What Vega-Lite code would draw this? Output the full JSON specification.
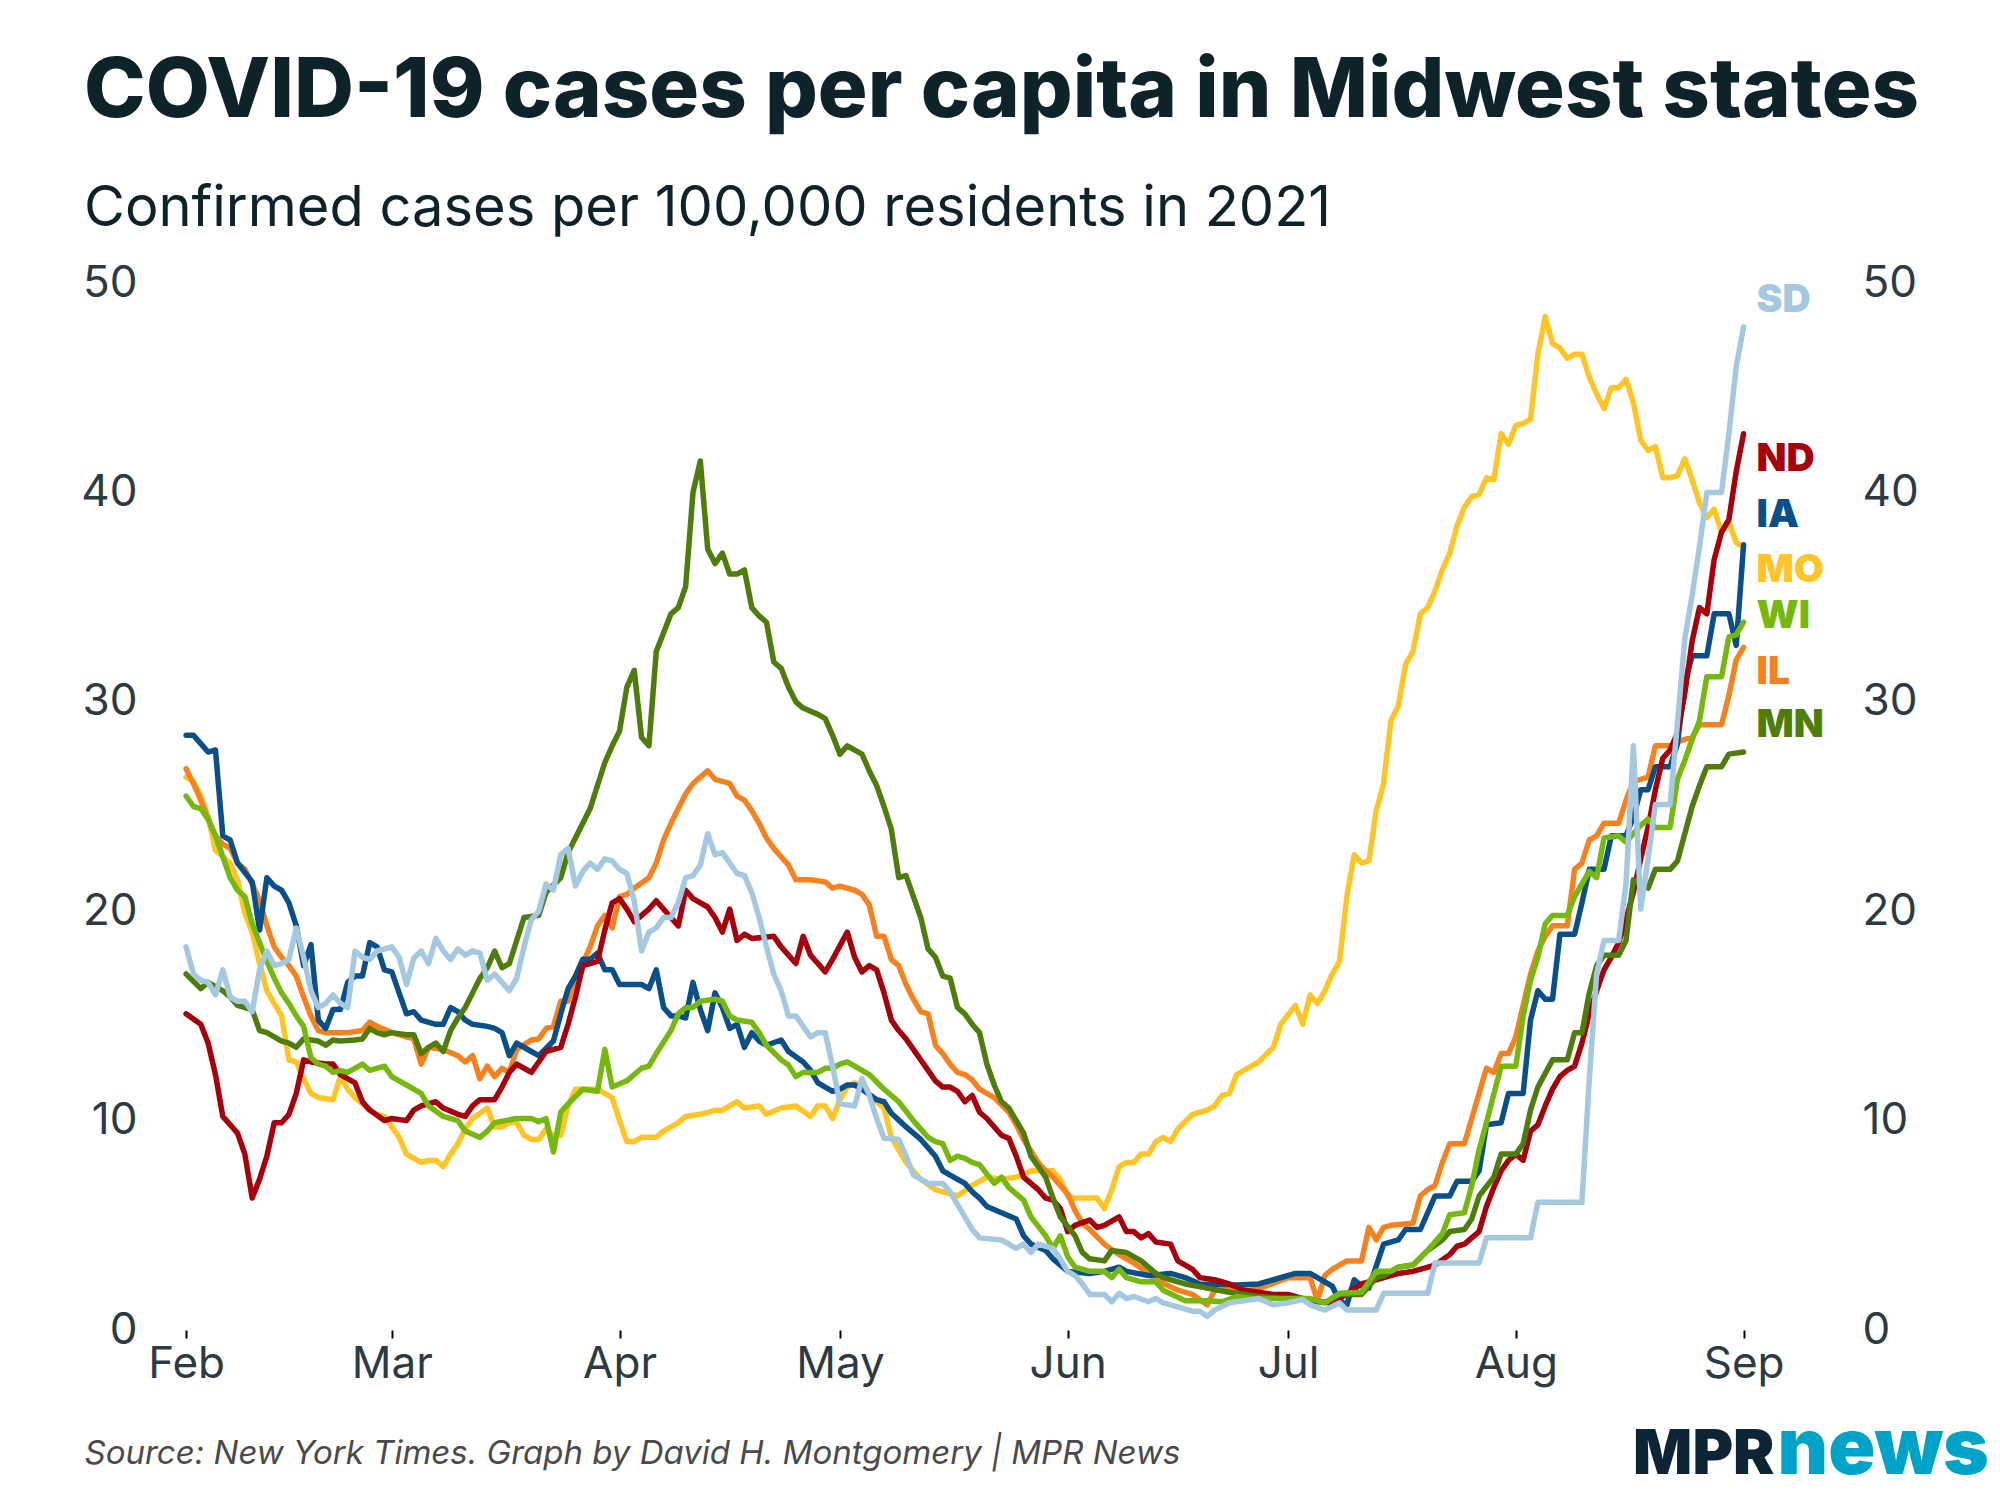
{
"$schema":"https://vega.github.io/schema/vega-lite/v6.json",
"width":1653,"height":1047,
"autosize":{"type":"none"},
"padding":{"left":142,"top":283,"right":205,"bottom":170},
"background":"white",
"config":{"view":{"stroke":null},"font":"Inter"},
"title":{"text":"COVID-19 cases per capita in Midwest states","subtitle":"Confirmed cases per 100,000 residents in 2021","anchor":"start","frame":"group","dx":-58,"font":"Inter","fontSize":83,"fontWeight":800,"color":"#0e2329","subtitleFont":"Inter","subtitleFontSize":56,"subtitleColor":"#0e2329","subtitlePadding":48,"offset":24},
"datasets":{
"cases":[
{"state":"MO","date":"2021-02-01","cases":26.4},{"state":"MO","date":"2021-02-02","cases":26.2},{"state":"MO","date":"2021-02-03","cases":25.5},{"state":"MO","date":"2021-02-04","cases":24.5},{"state":"MO","date":"2021-02-05","cases":22.9},{"state":"MO","date":"2021-02-06","cases":22.6},{"state":"MO","date":"2021-02-07","cases":22.3},{"state":"MO","date":"2021-02-08","cases":21.5},{"state":"MO","date":"2021-02-09","cases":19.9},{"state":"MO","date":"2021-02-10","cases":19.0},{"state":"MO","date":"2021-02-11","cases":17.5},{"state":"MO","date":"2021-02-12","cases":16.2},{"state":"MO","date":"2021-02-13","cases":15.6},{"state":"MO","date":"2021-02-14","cases":15.0},{"state":"MO","date":"2021-02-15","cases":12.9},{"state":"MO","date":"2021-02-16","cases":12.8},{"state":"MO","date":"2021-02-17","cases":12.0},{"state":"MO","date":"2021-02-18","cases":11.3},{"state":"MO","date":"2021-02-19","cases":11.1},{"state":"MO","date":"2021-02-21","cases":11.0},{"state":"MO","date":"2021-02-22","cases":12.1},{"state":"MO","date":"2021-02-23","cases":11.5},{"state":"MO","date":"2021-02-24","cases":11.1},{"state":"MO","date":"2021-02-26","cases":10.5},{"state":"MO","date":"2021-02-27","cases":10.3},{"state":"MO","date":"2021-02-28","cases":10.2},{"state":"MO","date":"2021-03-02","cases":9.2},{"state":"MO","date":"2021-03-03","cases":8.4},{"state":"MO","date":"2021-03-05","cases":8.0},{"state":"MO","date":"2021-03-06","cases":8.1},{"state":"MO","date":"2021-03-07","cases":8.1},{"state":"MO","date":"2021-03-08","cases":7.8},{"state":"MO","date":"2021-03-09","cases":8.4},{"state":"MO","date":"2021-03-10","cases":8.9},{"state":"MO","date":"2021-03-11","cases":9.6},{"state":"MO","date":"2021-03-12","cases":10.1},{"state":"MO","date":"2021-03-14","cases":10.6},{"state":"MO","date":"2021-03-15","cases":9.7},{"state":"MO","date":"2021-03-16","cases":9.7},{"state":"MO","date":"2021-03-17","cases":9.9},{"state":"MO","date":"2021-03-18","cases":9.9},{"state":"MO","date":"2021-03-19","cases":9.3},{"state":"MO","date":"2021-03-20","cases":9.1},{"state":"MO","date":"2021-03-21","cases":9.1},{"state":"MO","date":"2021-03-22","cases":9.6},{"state":"MO","date":"2021-03-23","cases":9.3},{"state":"MO","date":"2021-03-24","cases":9.3},{"state":"MO","date":"2021-03-25","cases":10.7},{"state":"MO","date":"2021-03-26","cases":11.5},{"state":"MO","date":"2021-03-27","cases":11.5},{"state":"MO","date":"2021-03-29","cases":11.5},{"state":"MO","date":"2021-03-31","cases":11.1},{"state":"MO","date":"2021-04-01","cases":10.0},{"state":"MO","date":"2021-04-02","cases":9.0},{"state":"MO","date":"2021-04-03","cases":9.0},{"state":"MO","date":"2021-04-04","cases":9.2},{"state":"MO","date":"2021-04-06","cases":9.2},{"state":"MO","date":"2021-04-07","cases":9.5},{"state":"MO","date":"2021-04-09","cases":9.9},{"state":"MO","date":"2021-04-10","cases":10.2},{"state":"MO","date":"2021-04-12","cases":10.3},{"state":"MO","date":"2021-04-14","cases":10.5},{"state":"MO","date":"2021-04-15","cases":10.5},{"state":"MO","date":"2021-04-17","cases":10.9},{"state":"MO","date":"2021-04-18","cases":10.6},{"state":"MO","date":"2021-04-20","cases":10.7},{"state":"MO","date":"2021-04-21","cases":10.3},{"state":"MO","date":"2021-04-23","cases":10.6},{"state":"MO","date":"2021-04-25","cases":10.7},{"state":"MO","date":"2021-04-27","cases":10.2},{"state":"MO","date":"2021-04-28","cases":10.7},{"state":"MO","date":"2021-04-29","cases":10.7},{"state":"MO","date":"2021-04-30","cases":10.1},{"state":"MO","date":"2021-05-01","cases":11.0},{"state":"MO","date":"2021-05-02","cases":11.6},{"state":"MO","date":"2021-05-03","cases":11.8},{"state":"MO","date":"2021-05-04","cases":11.7},{"state":"MO","date":"2021-05-05","cases":11.2},{"state":"MO","date":"2021-05-07","cases":10.6},{"state":"MO","date":"2021-05-08","cases":9.2},{"state":"MO","date":"2021-05-09","cases":8.6},{"state":"MO","date":"2021-05-10","cases":8.0},{"state":"MO","date":"2021-05-12","cases":7.2},{"state":"MO","date":"2021-05-14","cases":6.7},{"state":"MO","date":"2021-05-16","cases":6.5},{"state":"MO","date":"2021-05-17","cases":6.4},{"state":"MO","date":"2021-05-19","cases":6.9},{"state":"MO","date":"2021-05-21","cases":7.3},{"state":"MO","date":"2021-05-23","cases":7.2},{"state":"MO","date":"2021-05-25","cases":7.3},{"state":"MO","date":"2021-05-27","cases":7.6},{"state":"MO","date":"2021-05-30","cases":7.6},{"state":"MO","date":"2021-05-31","cases":7.2},{"state":"MO","date":"2021-06-01","cases":6.4},{"state":"MO","date":"2021-06-02","cases":6.3},{"state":"MO","date":"2021-06-05","cases":6.3},{"state":"MO","date":"2021-06-06","cases":5.8},{"state":"MO","date":"2021-06-07","cases":6.7},{"state":"MO","date":"2021-06-08","cases":7.8},{"state":"MO","date":"2021-06-09","cases":8.0},{"state":"MO","date":"2021-06-10","cases":8.0},{"state":"MO","date":"2021-06-11","cases":8.4},{"state":"MO","date":"2021-06-12","cases":8.4},{"state":"MO","date":"2021-06-13","cases":9.0},{"state":"MO","date":"2021-06-14","cases":9.2},{"state":"MO","date":"2021-06-15","cases":9.0},{"state":"MO","date":"2021-06-16","cases":9.6},{"state":"MO","date":"2021-06-18","cases":10.3},{"state":"MO","date":"2021-06-20","cases":10.5},{"state":"MO","date":"2021-06-21","cases":10.7},{"state":"MO","date":"2021-06-22","cases":11.2},{"state":"MO","date":"2021-06-23","cases":11.3},{"state":"MO","date":"2021-06-24","cases":12.2},{"state":"MO","date":"2021-06-25","cases":12.4},{"state":"MO","date":"2021-06-27","cases":12.8},{"state":"MO","date":"2021-06-29","cases":13.5},{"state":"MO","date":"2021-06-30","cases":14.6},{"state":"MO","date":"2021-07-02","cases":15.5},{"state":"MO","date":"2021-07-03","cases":14.6},{"state":"MO","date":"2021-07-04","cases":16.0},{"state":"MO","date":"2021-07-05","cases":15.6},{"state":"MO","date":"2021-07-06","cases":16.2},{"state":"MO","date":"2021-07-07","cases":17.0},{"state":"MO","date":"2021-07-08","cases":17.6},{"state":"MO","date":"2021-07-09","cases":20.7},{"state":"MO","date":"2021-07-10","cases":22.7},{"state":"MO","date":"2021-07-11","cases":22.3},{"state":"MO","date":"2021-07-12","cases":22.4},{"state":"MO","date":"2021-07-13","cases":24.8},{"state":"MO","date":"2021-07-14","cases":26.1},{"state":"MO","date":"2021-07-15","cases":29.1},{"state":"MO","date":"2021-07-16","cases":29.8},{"state":"MO","date":"2021-07-17","cases":31.8},{"state":"MO","date":"2021-07-18","cases":32.4},{"state":"MO","date":"2021-07-19","cases":34.2},{"state":"MO","date":"2021-07-20","cases":34.5},{"state":"MO","date":"2021-07-21","cases":35.3},{"state":"MO","date":"2021-07-22","cases":36.3},{"state":"MO","date":"2021-07-23","cases":37.1},{"state":"MO","date":"2021-07-24","cases":38.4},{"state":"MO","date":"2021-07-25","cases":39.3},{"state":"MO","date":"2021-07-26","cases":39.8},{"state":"MO","date":"2021-07-27","cases":39.9},{"state":"MO","date":"2021-07-28","cases":40.7},{"state":"MO","date":"2021-07-29","cases":40.6},{"state":"MO","date":"2021-07-30","cases":42.8},{"state":"MO","date":"2021-07-31","cases":42.3},{"state":"MO","date":"2021-08-01","cases":43.2},{"state":"MO","date":"2021-08-02","cases":43.3},{"state":"MO","date":"2021-08-03","cases":43.5},{"state":"MO","date":"2021-08-04","cases":46.6},{"state":"MO","date":"2021-08-05","cases":48.4},{"state":"MO","date":"2021-08-06","cases":47.1},{"state":"MO","date":"2021-08-07","cases":46.9},{"state":"MO","date":"2021-08-08","cases":46.4},{"state":"MO","date":"2021-08-09","cases":46.6},{"state":"MO","date":"2021-08-10","cases":46.6},{"state":"MO","date":"2021-08-11","cases":45.5},{"state":"MO","date":"2021-08-12","cases":44.7},{"state":"MO","date":"2021-08-13","cases":44.0},{"state":"MO","date":"2021-08-14","cases":45.0},{"state":"MO","date":"2021-08-15","cases":45.0},{"state":"MO","date":"2021-08-16","cases":45.4},{"state":"MO","date":"2021-08-17","cases":44.3},{"state":"MO","date":"2021-08-18","cases":42.5},{"state":"MO","date":"2021-08-19","cases":42.0},{"state":"MO","date":"2021-08-20","cases":42.2},{"state":"MO","date":"2021-08-21","cases":40.7},{"state":"MO","date":"2021-08-22","cases":40.7},{"state":"MO","date":"2021-08-23","cases":40.8},{"state":"MO","date":"2021-08-24","cases":41.6},{"state":"MO","date":"2021-08-25","cases":40.6},{"state":"MO","date":"2021-08-26","cases":39.5},{"state":"MO","date":"2021-08-27","cases":38.8},{"state":"MO","date":"2021-08-28","cases":39.2},{"state":"MO","date":"2021-08-29","cases":38.1},{"state":"MO","date":"2021-08-30","cases":38.6},{"state":"MO","date":"2021-08-31","cases":37.6},{"state":"MO","date":"2021-09-01","cases":37.4},
{"state":"IL","date":"2021-02-01","cases":26.8},{"state":"IL","date":"2021-02-02","cases":26.1},{"state":"IL","date":"2021-02-03","cases":25.3},{"state":"IL","date":"2021-02-04","cases":24.4},{"state":"IL","date":"2021-02-05","cases":23.6},{"state":"IL","date":"2021-02-06","cases":23.2},{"state":"IL","date":"2021-02-07","cases":23.0},{"state":"IL","date":"2021-02-08","cases":22.3},{"state":"IL","date":"2021-02-09","cases":22.0},{"state":"IL","date":"2021-02-10","cases":21.3},{"state":"IL","date":"2021-02-11","cases":20.5},{"state":"IL","date":"2021-02-12","cases":19.3},{"state":"IL","date":"2021-02-13","cases":18.3},{"state":"IL","date":"2021-02-14","cases":17.8},{"state":"IL","date":"2021-02-15","cases":17.4},{"state":"IL","date":"2021-02-16","cases":16.9},{"state":"IL","date":"2021-02-17","cases":15.9},{"state":"IL","date":"2021-02-18","cases":15.0},{"state":"IL","date":"2021-02-19","cases":14.3},{"state":"IL","date":"2021-02-20","cases":14.2},{"state":"IL","date":"2021-02-23","cases":14.2},{"state":"IL","date":"2021-02-25","cases":14.3},{"state":"IL","date":"2021-02-26","cases":14.7},{"state":"IL","date":"2021-02-27","cases":14.5},{"state":"IL","date":"2021-03-01","cases":14.2},{"state":"IL","date":"2021-03-03","cases":14.0},{"state":"IL","date":"2021-03-04","cases":13.9},{"state":"IL","date":"2021-03-05","cases":12.7},{"state":"IL","date":"2021-03-06","cases":13.5},{"state":"IL","date":"2021-03-08","cases":13.4},{"state":"IL","date":"2021-03-10","cases":13.1},{"state":"IL","date":"2021-03-11","cases":12.8},{"state":"IL","date":"2021-03-12","cases":13.1},{"state":"IL","date":"2021-03-13","cases":12.0},{"state":"IL","date":"2021-03-14","cases":12.6},{"state":"IL","date":"2021-03-15","cases":12.1},{"state":"IL","date":"2021-03-16","cases":12.5},{"state":"IL","date":"2021-03-17","cases":12.3},{"state":"IL","date":"2021-03-18","cases":13.4},{"state":"IL","date":"2021-03-20","cases":13.85},{"state":"IL","date":"2021-03-21","cases":13.9},{"state":"IL","date":"2021-03-22","cases":14.4},{"state":"IL","date":"2021-03-23","cases":14.5},{"state":"IL","date":"2021-03-24","cases":15.7},{"state":"IL","date":"2021-03-25","cases":15.7},{"state":"IL","date":"2021-03-26","cases":16.9},{"state":"IL","date":"2021-03-27","cases":17.5},{"state":"IL","date":"2021-03-28","cases":18.3},{"state":"IL","date":"2021-03-29","cases":19.3},{"state":"IL","date":"2021-03-30","cases":19.8},{"state":"IL","date":"2021-03-31","cases":19.2},{"state":"IL","date":"2021-04-01","cases":20.7},{"state":"IL","date":"2021-04-02","cases":20.8},{"state":"IL","date":"2021-04-03","cases":21.1},{"state":"IL","date":"2021-04-05","cases":21.6},{"state":"IL","date":"2021-04-06","cases":22.3},{"state":"IL","date":"2021-04-07","cases":23.4},{"state":"IL","date":"2021-04-08","cases":24.2},{"state":"IL","date":"2021-04-09","cases":24.9},{"state":"IL","date":"2021-04-10","cases":25.6},{"state":"IL","date":"2021-04-11","cases":26.1},{"state":"IL","date":"2021-04-12","cases":26.4},{"state":"IL","date":"2021-04-13","cases":26.7},{"state":"IL","date":"2021-04-14","cases":26.3},{"state":"IL","date":"2021-04-16","cases":26.1},{"state":"IL","date":"2021-04-17","cases":25.5},{"state":"IL","date":"2021-04-18","cases":25.3},{"state":"IL","date":"2021-04-19","cases":24.8},{"state":"IL","date":"2021-04-20","cases":24.2},{"state":"IL","date":"2021-04-21","cases":23.5},{"state":"IL","date":"2021-04-22","cases":23.0},{"state":"IL","date":"2021-04-23","cases":22.6},{"state":"IL","date":"2021-04-24","cases":22.2},{"state":"IL","date":"2021-04-25","cases":21.5},{"state":"IL","date":"2021-04-27","cases":21.5},{"state":"IL","date":"2021-04-29","cases":21.4},{"state":"IL","date":"2021-04-30","cases":21.1},{"state":"IL","date":"2021-05-01","cases":21.2},{"state":"IL","date":"2021-05-03","cases":21.0},{"state":"IL","date":"2021-05-04","cases":20.8},{"state":"IL","date":"2021-05-05","cases":20.3},{"state":"IL","date":"2021-05-06","cases":18.8},{"state":"IL","date":"2021-05-07","cases":18.8},{"state":"IL","date":"2021-05-08","cases":17.7},{"state":"IL","date":"2021-05-09","cases":17.4},{"state":"IL","date":"2021-05-10","cases":16.5},{"state":"IL","date":"2021-05-11","cases":15.8},{"state":"IL","date":"2021-05-12","cases":15.2},{"state":"IL","date":"2021-05-13","cases":15.1},{"state":"IL","date":"2021-05-14","cases":13.6},{"state":"IL","date":"2021-05-15","cases":13.2},{"state":"IL","date":"2021-05-16","cases":12.7},{"state":"IL","date":"2021-05-17","cases":12.3},{"state":"IL","date":"2021-05-18","cases":12.2},{"state":"IL","date":"2021-05-19","cases":11.95},{"state":"IL","date":"2021-05-20","cases":11.5},{"state":"IL","date":"2021-05-22","cases":11.1},{"state":"IL","date":"2021-05-24","cases":10.4},{"state":"IL","date":"2021-05-25","cases":9.8},{"state":"IL","date":"2021-05-26","cases":9.1},{"state":"IL","date":"2021-05-28","cases":8.0},{"state":"IL","date":"2021-05-29","cases":7.6},{"state":"IL","date":"2021-05-30","cases":7.3},{"state":"IL","date":"2021-06-01","cases":6.5},{"state":"IL","date":"2021-06-02","cases":5.7},{"state":"IL","date":"2021-06-03","cases":5.1},{"state":"IL","date":"2021-06-04","cases":4.8},{"state":"IL","date":"2021-06-06","cases":4.1},{"state":"IL","date":"2021-06-08","cases":3.6},{"state":"IL","date":"2021-06-10","cases":3.2},{"state":"IL","date":"2021-06-12","cases":2.7},{"state":"IL","date":"2021-06-13","cases":2.4},{"state":"IL","date":"2021-06-16","cases":1.9},{"state":"IL","date":"2021-06-18","cases":1.7},{"state":"IL","date":"2021-06-20","cases":1.2},{"state":"IL","date":"2021-06-21","cases":1.9},{"state":"IL","date":"2021-06-26","cases":1.9},{"state":"IL","date":"2021-06-28","cases":2.1},{"state":"IL","date":"2021-07-01","cases":2.5},{"state":"IL","date":"2021-07-04","cases":2.5},{"state":"IL","date":"2021-07-05","cases":1.4},{"state":"IL","date":"2021-07-06","cases":2.6},{"state":"IL","date":"2021-07-07","cases":2.9},{"state":"IL","date":"2021-07-09","cases":3.3},{"state":"IL","date":"2021-07-11","cases":3.3},{"state":"IL","date":"2021-07-12","cases":4.9},{"state":"IL","date":"2021-07-13","cases":4.3},{"state":"IL","date":"2021-07-14","cases":4.9},{"state":"IL","date":"2021-07-15","cases":5.0},{"state":"IL","date":"2021-07-18","cases":5.1},{"state":"IL","date":"2021-07-19","cases":6.4},{"state":"IL","date":"2021-07-20","cases":6.7},{"state":"IL","date":"2021-07-21","cases":6.9},{"state":"IL","date":"2021-07-22","cases":8.0},{"state":"IL","date":"2021-07-23","cases":8.9},{"state":"IL","date":"2021-07-25","cases":8.9},{"state":"IL","date":"2021-07-26","cases":10.1},{"state":"IL","date":"2021-07-27","cases":11.3},{"state":"IL","date":"2021-07-28","cases":12.5},{"state":"IL","date":"2021-07-29","cases":12.3},{"state":"IL","date":"2021-07-30","cases":13.2},{"state":"IL","date":"2021-07-31","cases":13.2},{"state":"IL","date":"2021-08-01","cases":14.0},{"state":"IL","date":"2021-08-02","cases":15.5},{"state":"IL","date":"2021-08-03","cases":17.0},{"state":"IL","date":"2021-08-04","cases":18.1},{"state":"IL","date":"2021-08-05","cases":18.8},{"state":"IL","date":"2021-08-06","cases":19.3},{"state":"IL","date":"2021-08-08","cases":19.3},{"state":"IL","date":"2021-08-09","cases":22.0},{"state":"IL","date":"2021-08-10","cases":22.3},{"state":"IL","date":"2021-08-11","cases":23.4},{"state":"IL","date":"2021-08-12","cases":23.6},{"state":"IL","date":"2021-08-13","cases":24.2},{"state":"IL","date":"2021-08-15","cases":24.2},{"state":"IL","date":"2021-08-16","cases":25.3},{"state":"IL","date":"2021-08-17","cases":26.2},{"state":"IL","date":"2021-08-18","cases":26.3},{"state":"IL","date":"2021-08-19","cases":26.4},{"state":"IL","date":"2021-08-20","cases":27.9},{"state":"IL","date":"2021-08-22","cases":27.9},{"state":"IL","date":"2021-08-23","cases":28.1},{"state":"IL","date":"2021-08-25","cases":28.3},{"state":"IL","date":"2021-08-26","cases":28.9},{"state":"IL","date":"2021-08-29","cases":28.9},{"state":"IL","date":"2021-08-30","cases":30.3},{"state":"IL","date":"2021-08-31","cases":32.0},{"state":"IL","date":"2021-09-01","cases":32.6},
{"state":"IA","date":"2021-02-01","cases":28.4},{"state":"IA","date":"2021-02-02","cases":28.4},{"state":"IA","date":"2021-02-03","cases":28.0},{"state":"IA","date":"2021-02-04","cases":27.6},{"state":"IA","date":"2021-02-05","cases":27.7},{"state":"IA","date":"2021-02-06","cases":23.6},{"state":"IA","date":"2021-02-07","cases":23.4},{"state":"IA","date":"2021-02-08","cases":22.3},{"state":"IA","date":"2021-02-10","cases":21.4},{"state":"IA","date":"2021-02-11","cases":19.1},{"state":"IA","date":"2021-02-12","cases":21.6},{"state":"IA","date":"2021-02-13","cases":21.2},{"state":"IA","date":"2021-02-14","cases":21.0},{"state":"IA","date":"2021-02-15","cases":20.4},{"state":"IA","date":"2021-02-16","cases":19.3},{"state":"IA","date":"2021-02-17","cases":17.4},{"state":"IA","date":"2021-02-18","cases":18.4},{"state":"IA","date":"2021-02-19","cases":14.8},{"state":"IA","date":"2021-02-20","cases":14.4},{"state":"IA","date":"2021-02-21","cases":15.3},{"state":"IA","date":"2021-02-22","cases":15.3},{"state":"IA","date":"2021-02-23","cases":16.6},{"state":"IA","date":"2021-02-24","cases":16.9},{"state":"IA","date":"2021-02-25","cases":16.9},{"state":"IA","date":"2021-02-26","cases":18.5},{"state":"IA","date":"2021-02-27","cases":18.3},{"state":"IA","date":"2021-02-28","cases":17.2},{"state":"IA","date":"2021-03-01","cases":17.1},{"state":"IA","date":"2021-03-03","cases":15.1},{"state":"IA","date":"2021-03-04","cases":15.2},{"state":"IA","date":"2021-03-05","cases":14.8},{"state":"IA","date":"2021-03-07","cases":14.6},{"state":"IA","date":"2021-03-08","cases":14.6},{"state":"IA","date":"2021-03-09","cases":15.4},{"state":"IA","date":"2021-03-10","cases":15.2},{"state":"IA","date":"2021-03-11","cases":14.8},{"state":"IA","date":"2021-03-12","cases":14.6},{"state":"IA","date":"2021-03-14","cases":14.5},{"state":"IA","date":"2021-03-15","cases":14.4},{"state":"IA","date":"2021-03-16","cases":14.2},{"state":"IA","date":"2021-03-17","cases":13.1},{"state":"IA","date":"2021-03-18","cases":13.7},{"state":"IA","date":"2021-03-20","cases":13.3},{"state":"IA","date":"2021-03-21","cases":13.1},{"state":"IA","date":"2021-03-23","cases":13.8},{"state":"IA","date":"2021-03-24","cases":15.1},{"state":"IA","date":"2021-03-25","cases":16.3},{"state":"IA","date":"2021-03-26","cases":16.9},{"state":"IA","date":"2021-03-27","cases":17.7},{"state":"IA","date":"2021-03-28","cases":17.7},{"state":"IA","date":"2021-03-29","cases":18.0},{"state":"IA","date":"2021-03-30","cases":17.2},{"state":"IA","date":"2021-03-31","cases":17.2},{"state":"IA","date":"2021-04-01","cases":16.5},{"state":"IA","date":"2021-04-02","cases":16.5},{"state":"IA","date":"2021-04-04","cases":16.5},{"state":"IA","date":"2021-04-05","cases":16.3},{"state":"IA","date":"2021-04-06","cases":17.2},{"state":"IA","date":"2021-04-07","cases":15.4},{"state":"IA","date":"2021-04-08","cases":15.0},{"state":"IA","date":"2021-04-09","cases":15.0},{"state":"IA","date":"2021-04-10","cases":14.9},{"state":"IA","date":"2021-04-11","cases":16.6},{"state":"IA","date":"2021-04-12","cases":15.3},{"state":"IA","date":"2021-04-13","cases":14.3},{"state":"IA","date":"2021-04-14","cases":16.1},{"state":"IA","date":"2021-04-15","cases":15.4},{"state":"IA","date":"2021-04-16","cases":14.4},{"state":"IA","date":"2021-04-17","cases":14.6},{"state":"IA","date":"2021-04-18","cases":13.5},{"state":"IA","date":"2021-04-19","cases":14.2},{"state":"IA","date":"2021-04-20","cases":13.8},{"state":"IA","date":"2021-04-21","cases":13.6},{"state":"IA","date":"2021-04-23","cases":13.85},{"state":"IA","date":"2021-04-24","cases":13.3},{"state":"IA","date":"2021-04-26","cases":12.8},{"state":"IA","date":"2021-04-27","cases":12.4},{"state":"IA","date":"2021-04-28","cases":11.8},{"state":"IA","date":"2021-04-30","cases":11.4},{"state":"IA","date":"2021-05-01","cases":11.5},{"state":"IA","date":"2021-05-02","cases":11.7},{"state":"IA","date":"2021-05-03","cases":11.7},{"state":"IA","date":"2021-05-04","cases":11.5},{"state":"IA","date":"2021-05-06","cases":11.0},{"state":"IA","date":"2021-05-07","cases":10.9},{"state":"IA","date":"2021-05-08","cases":10.35},{"state":"IA","date":"2021-05-10","cases":9.7},{"state":"IA","date":"2021-05-12","cases":9.1},{"state":"IA","date":"2021-05-14","cases":8.3},{"state":"IA","date":"2021-05-15","cases":7.6},{"state":"IA","date":"2021-05-16","cases":7.4},{"state":"IA","date":"2021-05-18","cases":7.0},{"state":"IA","date":"2021-05-19","cases":6.6},{"state":"IA","date":"2021-05-20","cases":6.3},{"state":"IA","date":"2021-05-21","cases":5.9},{"state":"IA","date":"2021-05-23","cases":5.6},{"state":"IA","date":"2021-05-25","cases":5.3},{"state":"IA","date":"2021-05-26","cases":4.5},{"state":"IA","date":"2021-05-27","cases":4.1},{"state":"IA","date":"2021-05-29","cases":3.8},{"state":"IA","date":"2021-05-30","cases":3.4},{"state":"IA","date":"2021-06-01","cases":2.8},{"state":"IA","date":"2021-06-04","cases":2.7},{"state":"IA","date":"2021-06-06","cases":2.8},{"state":"IA","date":"2021-06-08","cases":3.0},{"state":"IA","date":"2021-06-09","cases":2.8},{"state":"IA","date":"2021-06-12","cases":2.6},{"state":"IA","date":"2021-06-15","cases":2.7},{"state":"IA","date":"2021-06-17","cases":2.5},{"state":"IA","date":"2021-06-19","cases":2.2},{"state":"IA","date":"2021-06-24","cases":2.15},{"state":"IA","date":"2021-06-27","cases":2.2},{"state":"IA","date":"2021-06-29","cases":2.4},{"state":"IA","date":"2021-07-02","cases":2.7},{"state":"IA","date":"2021-07-04","cases":2.7},{"state":"IA","date":"2021-07-05","cases":2.5},{"state":"IA","date":"2021-07-07","cases":2.1},{"state":"IA","date":"2021-07-08","cases":1.4},{"state":"IA","date":"2021-07-09","cases":1.2},{"state":"IA","date":"2021-07-10","cases":2.4},{"state":"IA","date":"2021-07-11","cases":2.1},{"state":"IA","date":"2021-07-12","cases":2.0},{"state":"IA","date":"2021-07-14","cases":4.1},{"state":"IA","date":"2021-07-16","cases":4.3},{"state":"IA","date":"2021-07-17","cases":4.8},{"state":"IA","date":"2021-07-19","cases":4.8},{"state":"IA","date":"2021-07-21","cases":6.4},{"state":"IA","date":"2021-07-23","cases":6.4},{"state":"IA","date":"2021-07-24","cases":7.1},{"state":"IA","date":"2021-07-26","cases":7.1},{"state":"IA","date":"2021-07-27","cases":7.6},{"state":"IA","date":"2021-07-28","cases":9.8},{"state":"IA","date":"2021-07-30","cases":9.9},{"state":"IA","date":"2021-07-31","cases":11.3},{"state":"IA","date":"2021-08-02","cases":11.3},{"state":"IA","date":"2021-08-03","cases":14.8},{"state":"IA","date":"2021-08-04","cases":16.2},{"state":"IA","date":"2021-08-05","cases":15.8},{"state":"IA","date":"2021-08-06","cases":15.8},{"state":"IA","date":"2021-08-07","cases":18.9},{"state":"IA","date":"2021-08-09","cases":18.9},{"state":"IA","date":"2021-08-10","cases":20.4},{"state":"IA","date":"2021-08-11","cases":22.0},{"state":"IA","date":"2021-08-13","cases":22.0},{"state":"IA","date":"2021-08-14","cases":23.6},{"state":"IA","date":"2021-08-16","cases":23.6},{"state":"IA","date":"2021-08-17","cases":24.5},{"state":"IA","date":"2021-08-18","cases":25.8},{"state":"IA","date":"2021-08-19","cases":25.8},{"state":"IA","date":"2021-08-20","cases":26.9},{"state":"IA","date":"2021-08-22","cases":26.9},{"state":"IA","date":"2021-08-23","cases":28.0},{"state":"IA","date":"2021-08-24","cases":30.9},{"state":"IA","date":"2021-08-25","cases":32.2},{"state":"IA","date":"2021-08-27","cases":32.2},{"state":"IA","date":"2021-08-28","cases":34.2},{"state":"IA","date":"2021-08-30","cases":34.2},{"state":"IA","date":"2021-08-31","cases":32.7},{"state":"IA","date":"2021-09-01","cases":37.5},
{"state":"ND","date":"2021-02-01","cases":15.1},{"state":"ND","date":"2021-02-03","cases":14.6},{"state":"ND","date":"2021-02-04","cases":13.7},{"state":"ND","date":"2021-02-05","cases":12.2},{"state":"ND","date":"2021-02-06","cases":10.2},{"state":"ND","date":"2021-02-07","cases":9.8},{"state":"ND","date":"2021-02-08","cases":9.4},{"state":"ND","date":"2021-02-09","cases":8.4},{"state":"ND","date":"2021-02-10","cases":6.3},{"state":"ND","date":"2021-02-11","cases":7.2},{"state":"ND","date":"2021-02-12","cases":8.3},{"state":"ND","date":"2021-02-13","cases":9.9},{"state":"ND","date":"2021-02-14","cases":9.9},{"state":"ND","date":"2021-02-15","cases":10.3},{"state":"ND","date":"2021-02-16","cases":11.3},{"state":"ND","date":"2021-02-17","cases":12.9},{"state":"ND","date":"2021-02-18","cases":12.8},{"state":"ND","date":"2021-02-20","cases":12.7},{"state":"ND","date":"2021-02-21","cases":12.7},{"state":"ND","date":"2021-02-22","cases":12.2},{"state":"ND","date":"2021-02-24","cases":11.8},{"state":"ND","date":"2021-02-25","cases":10.9},{"state":"ND","date":"2021-02-26","cases":10.5},{"state":"ND","date":"2021-02-28","cases":10.0},{"state":"ND","date":"2021-03-01","cases":10.1},{"state":"ND","date":"2021-03-03","cases":10.0},{"state":"ND","date":"2021-03-04","cases":10.5},{"state":"ND","date":"2021-03-05","cases":10.7},{"state":"ND","date":"2021-03-07","cases":10.9},{"state":"ND","date":"2021-03-08","cases":10.6},{"state":"ND","date":"2021-03-10","cases":10.3},{"state":"ND","date":"2021-03-11","cases":10.2},{"state":"ND","date":"2021-03-12","cases":10.7},{"state":"ND","date":"2021-03-13","cases":11.0},{"state":"ND","date":"2021-03-15","cases":11.0},{"state":"ND","date":"2021-03-16","cases":11.6},{"state":"ND","date":"2021-03-17","cases":12.3},{"state":"ND","date":"2021-03-18","cases":12.7},{"state":"ND","date":"2021-03-20","cases":12.3},{"state":"ND","date":"2021-03-21","cases":12.8},{"state":"ND","date":"2021-03-22","cases":13.3},{"state":"ND","date":"2021-03-24","cases":13.5},{"state":"ND","date":"2021-03-25","cases":14.6},{"state":"ND","date":"2021-03-26","cases":15.9},{"state":"ND","date":"2021-03-27","cases":17.4},{"state":"ND","date":"2021-03-28","cases":17.5},{"state":"ND","date":"2021-03-29","cases":17.6},{"state":"ND","date":"2021-03-30","cases":19.1},{"state":"ND","date":"2021-03-31","cases":20.4},{"state":"ND","date":"2021-04-01","cases":20.6},{"state":"ND","date":"2021-04-02","cases":20.1},{"state":"ND","date":"2021-04-03","cases":19.5},{"state":"ND","date":"2021-04-04","cases":19.8},{"state":"ND","date":"2021-04-05","cases":20.1},{"state":"ND","date":"2021-04-06","cases":20.5},{"state":"ND","date":"2021-04-07","cases":20.1},{"state":"ND","date":"2021-04-08","cases":19.7},{"state":"ND","date":"2021-04-09","cases":19.3},{"state":"ND","date":"2021-04-10","cases":21.0},{"state":"ND","date":"2021-04-11","cases":20.6},{"state":"ND","date":"2021-04-13","cases":20.2},{"state":"ND","date":"2021-04-14","cases":19.7},{"state":"ND","date":"2021-04-15","cases":19.0},{"state":"ND","date":"2021-04-16","cases":20.1},{"state":"ND","date":"2021-04-17","cases":18.6},{"state":"ND","date":"2021-04-18","cases":18.9},{"state":"ND","date":"2021-04-19","cases":18.7},{"state":"ND","date":"2021-04-22","cases":18.8},{"state":"ND","date":"2021-04-23","cases":18.3},{"state":"ND","date":"2021-04-24","cases":17.9},{"state":"ND","date":"2021-04-25","cases":17.5},{"state":"ND","date":"2021-04-26","cases":18.8},{"state":"ND","date":"2021-04-27","cases":17.9},{"state":"ND","date":"2021-04-28","cases":17.5},{"state":"ND","date":"2021-04-29","cases":17.1},{"state":"ND","date":"2021-04-30","cases":17.7},{"state":"ND","date":"2021-05-02","cases":19.0},{"state":"ND","date":"2021-05-03","cases":17.8},{"state":"ND","date":"2021-05-04","cases":17.1},{"state":"ND","date":"2021-05-05","cases":17.4},{"state":"ND","date":"2021-05-06","cases":17.2},{"state":"ND","date":"2021-05-07","cases":16.1},{"state":"ND","date":"2021-05-08","cases":14.8},{"state":"ND","date":"2021-05-09","cases":14.3},{"state":"ND","date":"2021-05-10","cases":13.9},{"state":"ND","date":"2021-05-12","cases":12.9},{"state":"ND","date":"2021-05-13","cases":12.4},{"state":"ND","date":"2021-05-14","cases":11.9},{"state":"ND","date":"2021-05-15","cases":11.6},{"state":"ND","date":"2021-05-16","cases":11.6},{"state":"ND","date":"2021-05-17","cases":11.4},{"state":"ND","date":"2021-05-18","cases":10.9},{"state":"ND","date":"2021-05-19","cases":11.2},{"state":"ND","date":"2021-05-20","cases":10.4},{"state":"ND","date":"2021-05-21","cases":10.1},{"state":"ND","date":"2021-05-23","cases":9.3},{"state":"ND","date":"2021-05-24","cases":9.15},{"state":"ND","date":"2021-05-25","cases":8.3},{"state":"ND","date":"2021-05-26","cases":7.3},{"state":"ND","date":"2021-05-28","cases":6.7},{"state":"ND","date":"2021-05-29","cases":6.3},{"state":"ND","date":"2021-05-30","cases":6.2},{"state":"ND","date":"2021-05-31","cases":5.8},{"state":"ND","date":"2021-06-01","cases":4.7},{"state":"ND","date":"2021-06-02","cases":5.0},{"state":"ND","date":"2021-06-04","cases":5.25},{"state":"ND","date":"2021-06-05","cases":4.9},{"state":"ND","date":"2021-06-06","cases":5.0},{"state":"ND","date":"2021-06-07","cases":5.2},{"state":"ND","date":"2021-06-08","cases":5.4},{"state":"ND","date":"2021-06-09","cases":4.7},{"state":"ND","date":"2021-06-10","cases":4.7},{"state":"ND","date":"2021-06-11","cases":4.4},{"state":"ND","date":"2021-06-12","cases":4.6},{"state":"ND","date":"2021-06-13","cases":4.2},{"state":"ND","date":"2021-06-15","cases":4.1},{"state":"ND","date":"2021-06-16","cases":3.3},{"state":"ND","date":"2021-06-18","cases":2.9},{"state":"ND","date":"2021-06-19","cases":2.5},{"state":"ND","date":"2021-06-21","cases":2.4},{"state":"ND","date":"2021-06-23","cases":2.2},{"state":"ND","date":"2021-06-25","cases":1.9},{"state":"ND","date":"2021-06-27","cases":1.8},{"state":"ND","date":"2021-06-29","cases":1.7},{"state":"ND","date":"2021-07-01","cases":1.7},{"state":"ND","date":"2021-07-03","cases":1.5},{"state":"ND","date":"2021-07-05","cases":1.35},{"state":"ND","date":"2021-07-07","cases":1.3},{"state":"ND","date":"2021-07-08","cases":1.5},{"state":"ND","date":"2021-07-11","cases":2.2},{"state":"ND","date":"2021-07-13","cases":2.4},{"state":"ND","date":"2021-07-16","cases":2.7},{"state":"ND","date":"2021-07-18","cases":2.8},{"state":"ND","date":"2021-07-21","cases":3.1},{"state":"ND","date":"2021-07-23","cases":3.6},{"state":"ND","date":"2021-07-24","cases":4.0},{"state":"ND","date":"2021-07-25","cases":4.1},{"state":"ND","date":"2021-07-27","cases":4.7},{"state":"ND","date":"2021-07-28","cases":5.9},{"state":"ND","date":"2021-07-29","cases":6.8},{"state":"ND","date":"2021-07-30","cases":7.6},{"state":"ND","date":"2021-07-31","cases":8.1},{"state":"ND","date":"2021-08-01","cases":8.4},{"state":"ND","date":"2021-08-02","cases":8.1},{"state":"ND","date":"2021-08-03","cases":9.5},{"state":"ND","date":"2021-08-04","cases":9.8},{"state":"ND","date":"2021-08-05","cases":10.7},{"state":"ND","date":"2021-08-06","cases":11.5},{"state":"ND","date":"2021-08-07","cases":12.1},{"state":"ND","date":"2021-08-08","cases":12.4},{"state":"ND","date":"2021-08-09","cases":12.6},{"state":"ND","date":"2021-08-10","cases":13.7},{"state":"ND","date":"2021-08-11","cases":15.1},{"state":"ND","date":"2021-08-12","cases":16.2},{"state":"ND","date":"2021-08-13","cases":17.2},{"state":"ND","date":"2021-08-14","cases":17.8},{"state":"ND","date":"2021-08-15","cases":18.5},{"state":"ND","date":"2021-08-16","cases":19.6},{"state":"ND","date":"2021-08-17","cases":20.9},{"state":"ND","date":"2021-08-18","cases":22.5},{"state":"ND","date":"2021-08-19","cases":24.0},{"state":"ND","date":"2021-08-20","cases":25.8},{"state":"ND","date":"2021-08-21","cases":27.3},{"state":"ND","date":"2021-08-22","cases":27.7},{"state":"ND","date":"2021-08-23","cases":28.5},{"state":"ND","date":"2021-08-24","cases":30.4},{"state":"ND","date":"2021-08-25","cases":32.9},{"state":"ND","date":"2021-08-26","cases":34.5},{"state":"ND","date":"2021-08-27","cases":34.2},{"state":"ND","date":"2021-08-28","cases":36.8},{"state":"ND","date":"2021-08-29","cases":38.1},{"state":"ND","date":"2021-08-30","cases":38.7},{"state":"ND","date":"2021-08-31","cases":41.0},{"state":"ND","date":"2021-09-01","cases":42.8},
{"state":"MN","date":"2021-02-01","cases":17.0},{"state":"MN","date":"2021-02-03","cases":16.3},{"state":"MN","date":"2021-02-04","cases":16.6},{"state":"MN","date":"2021-02-06","cases":16.2},{"state":"MN","date":"2021-02-07","cases":15.9},{"state":"MN","date":"2021-02-08","cases":15.5},{"state":"MN","date":"2021-02-09","cases":15.4},{"state":"MN","date":"2021-02-10","cases":15.3},{"state":"MN","date":"2021-02-11","cases":14.3},{"state":"MN","date":"2021-02-12","cases":14.2},{"state":"MN","date":"2021-02-13","cases":14.0},{"state":"MN","date":"2021-02-14","cases":13.8},{"state":"MN","date":"2021-02-15","cases":13.7},{"state":"MN","date":"2021-02-16","cases":13.5},{"state":"MN","date":"2021-02-17","cases":13.9},{"state":"MN","date":"2021-02-19","cases":13.8},{"state":"MN","date":"2021-02-20","cases":13.6},{"state":"MN","date":"2021-02-21","cases":13.85},{"state":"MN","date":"2021-02-22","cases":13.8},{"state":"MN","date":"2021-02-24","cases":13.85},{"state":"MN","date":"2021-02-25","cases":13.9},{"state":"MN","date":"2021-02-26","cases":14.4},{"state":"MN","date":"2021-02-27","cases":14.2},{"state":"MN","date":"2021-02-28","cases":14.1},{"state":"MN","date":"2021-03-01","cases":14.2},{"state":"MN","date":"2021-03-03","cases":14.1},{"state":"MN","date":"2021-03-04","cases":14.1},{"state":"MN","date":"2021-03-05","cases":13.2},{"state":"MN","date":"2021-03-06","cases":13.5},{"state":"MN","date":"2021-03-07","cases":13.7},{"state":"MN","date":"2021-03-08","cases":13.3},{"state":"MN","date":"2021-03-09","cases":14.3},{"state":"MN","date":"2021-03-10","cases":14.9},{"state":"MN","date":"2021-03-11","cases":15.4},{"state":"MN","date":"2021-03-12","cases":16.1},{"state":"MN","date":"2021-03-13","cases":16.8},{"state":"MN","date":"2021-03-14","cases":17.3},{"state":"MN","date":"2021-03-15","cases":18.1},{"state":"MN","date":"2021-03-16","cases":17.3},{"state":"MN","date":"2021-03-17","cases":17.5},{"state":"MN","date":"2021-03-18","cases":18.6},{"state":"MN","date":"2021-03-19","cases":19.7},{"state":"MN","date":"2021-03-21","cases":19.8},{"state":"MN","date":"2021-03-22","cases":20.9},{"state":"MN","date":"2021-03-24","cases":21.6},{"state":"MN","date":"2021-03-25","cases":22.8},{"state":"MN","date":"2021-03-27","cases":24.2},{"state":"MN","date":"2021-03-28","cases":24.9},{"state":"MN","date":"2021-03-30","cases":27.1},{"state":"MN","date":"2021-03-31","cases":27.9},{"state":"MN","date":"2021-04-01","cases":28.6},{"state":"MN","date":"2021-04-02","cases":30.7},{"state":"MN","date":"2021-04-03","cases":31.5},{"state":"MN","date":"2021-04-04","cases":28.3},{"state":"MN","date":"2021-04-05","cases":27.9},{"state":"MN","date":"2021-04-06","cases":32.4},{"state":"MN","date":"2021-04-07","cases":33.3},{"state":"MN","date":"2021-04-08","cases":34.2},{"state":"MN","date":"2021-04-09","cases":34.5},{"state":"MN","date":"2021-04-10","cases":35.5},{"state":"MN","date":"2021-04-11","cases":40.0},{"state":"MN","date":"2021-04-12","cases":41.5},{"state":"MN","date":"2021-04-13","cases":37.3},{"state":"MN","date":"2021-04-14","cases":36.6},{"state":"MN","date":"2021-04-15","cases":37.1},{"state":"MN","date":"2021-04-16","cases":36.1},{"state":"MN","date":"2021-04-17","cases":36.1},{"state":"MN","date":"2021-04-18","cases":36.3},{"state":"MN","date":"2021-04-19","cases":34.5},{"state":"MN","date":"2021-04-20","cases":34.1},{"state":"MN","date":"2021-04-21","cases":33.8},{"state":"MN","date":"2021-04-22","cases":31.9},{"state":"MN","date":"2021-04-23","cases":31.6},{"state":"MN","date":"2021-04-24","cases":30.7},{"state":"MN","date":"2021-04-25","cases":30.0},{"state":"MN","date":"2021-04-26","cases":29.7},{"state":"MN","date":"2021-04-28","cases":29.4},{"state":"MN","date":"2021-04-29","cases":29.2},{"state":"MN","date":"2021-04-30","cases":28.4},{"state":"MN","date":"2021-05-01","cases":27.5},{"state":"MN","date":"2021-05-02","cases":27.9},{"state":"MN","date":"2021-05-04","cases":27.5},{"state":"MN","date":"2021-05-05","cases":26.7},{"state":"MN","date":"2021-05-06","cases":26.0},{"state":"MN","date":"2021-05-07","cases":25.0},{"state":"MN","date":"2021-05-08","cases":23.9},{"state":"MN","date":"2021-05-09","cases":21.6},{"state":"MN","date":"2021-05-10","cases":21.7},{"state":"MN","date":"2021-05-11","cases":20.7},{"state":"MN","date":"2021-05-12","cases":19.7},{"state":"MN","date":"2021-05-13","cases":18.2},{"state":"MN","date":"2021-05-14","cases":17.8},{"state":"MN","date":"2021-05-15","cases":16.9},{"state":"MN","date":"2021-05-16","cases":16.8},{"state":"MN","date":"2021-05-17","cases":15.4},{"state":"MN","date":"2021-05-18","cases":15.1},{"state":"MN","date":"2021-05-19","cases":14.6},{"state":"MN","date":"2021-05-20","cases":14.2},{"state":"MN","date":"2021-05-21","cases":12.7},{"state":"MN","date":"2021-05-22","cases":11.7},{"state":"MN","date":"2021-05-23","cases":10.9},{"state":"MN","date":"2021-05-24","cases":10.6},{"state":"MN","date":"2021-05-26","cases":9.4},{"state":"MN","date":"2021-05-27","cases":8.3},{"state":"MN","date":"2021-05-29","cases":7.3},{"state":"MN","date":"2021-05-30","cases":6.3},{"state":"MN","date":"2021-05-31","cases":5.4},{"state":"MN","date":"2021-06-02","cases":4.5},{"state":"MN","date":"2021-06-03","cases":3.7},{"state":"MN","date":"2021-06-04","cases":3.4},{"state":"MN","date":"2021-06-06","cases":3.3},{"state":"MN","date":"2021-06-07","cases":3.8},{"state":"MN","date":"2021-06-09","cases":3.7},{"state":"MN","date":"2021-06-11","cases":3.3},{"state":"MN","date":"2021-06-13","cases":2.7},{"state":"MN","date":"2021-06-14","cases":2.5},{"state":"MN","date":"2021-06-17","cases":2.2},{"state":"MN","date":"2021-06-20","cases":2.0},{"state":"MN","date":"2021-06-23","cases":1.8},{"state":"MN","date":"2021-06-25","cases":1.7},{"state":"MN","date":"2021-06-27","cases":1.6},{"state":"MN","date":"2021-06-30","cases":1.5},{"state":"MN","date":"2021-07-03","cases":1.5},{"state":"MN","date":"2021-07-05","cases":1.4},{"state":"MN","date":"2021-07-06","cases":1.3},{"state":"MN","date":"2021-07-08","cases":1.7},{"state":"MN","date":"2021-07-11","cases":1.7},{"state":"MN","date":"2021-07-13","cases":2.5},{"state":"MN","date":"2021-07-14","cases":2.6},{"state":"MN","date":"2021-07-16","cases":3.0},{"state":"MN","date":"2021-07-18","cases":3.1},{"state":"MN","date":"2021-07-20","cases":3.8},{"state":"MN","date":"2021-07-22","cases":4.3},{"state":"MN","date":"2021-07-23","cases":4.7},{"state":"MN","date":"2021-07-25","cases":4.8},{"state":"MN","date":"2021-07-26","cases":5.3},{"state":"MN","date":"2021-07-27","cases":6.4},{"state":"MN","date":"2021-07-29","cases":7.3},{"state":"MN","date":"2021-07-30","cases":8.4},{"state":"MN","date":"2021-08-01","cases":8.4},{"state":"MN","date":"2021-08-02","cases":8.9},{"state":"MN","date":"2021-08-03","cases":10.5},{"state":"MN","date":"2021-08-04","cases":11.6},{"state":"MN","date":"2021-08-06","cases":12.9},{"state":"MN","date":"2021-08-08","cases":12.9},{"state":"MN","date":"2021-08-09","cases":14.2},{"state":"MN","date":"2021-08-10","cases":14.2},{"state":"MN","date":"2021-08-11","cases":16.1},{"state":"MN","date":"2021-08-12","cases":17.4},{"state":"MN","date":"2021-08-13","cases":17.9},{"state":"MN","date":"2021-08-15","cases":17.9},{"state":"MN","date":"2021-08-16","cases":18.6},{"state":"MN","date":"2021-08-17","cases":21.5},{"state":"MN","date":"2021-08-19","cases":21.1},{"state":"MN","date":"2021-08-20","cases":22.0},{"state":"MN","date":"2021-08-22","cases":22.0},{"state":"MN","date":"2021-08-23","cases":22.4},{"state":"MN","date":"2021-08-24","cases":23.7},{"state":"MN","date":"2021-08-25","cases":25.0},{"state":"MN","date":"2021-08-26","cases":26.0},{"state":"MN","date":"2021-08-27","cases":26.9},{"state":"MN","date":"2021-08-29","cases":26.9},{"state":"MN","date":"2021-08-30","cases":27.5},{"state":"MN","date":"2021-09-01","cases":27.6},
{"state":"WI","date":"2021-02-01","cases":25.5},{"state":"WI","date":"2021-02-02","cases":25.0},{"state":"WI","date":"2021-02-03","cases":24.9},{"state":"WI","date":"2021-02-04","cases":24.4},{"state":"WI","date":"2021-02-05","cases":23.6},{"state":"WI","date":"2021-02-06","cases":22.6},{"state":"WI","date":"2021-02-07","cases":21.6},{"state":"WI","date":"2021-02-08","cases":21.0},{"state":"WI","date":"2021-02-09","cases":20.7},{"state":"WI","date":"2021-02-10","cases":19.4},{"state":"WI","date":"2021-02-11","cases":18.5},{"state":"WI","date":"2021-02-12","cases":17.6},{"state":"WI","date":"2021-02-13","cases":16.8},{"state":"WI","date":"2021-02-14","cases":16.1},{"state":"WI","date":"2021-02-15","cases":15.6},{"state":"WI","date":"2021-02-16","cases":15.0},{"state":"WI","date":"2021-02-17","cases":14.5},{"state":"WI","date":"2021-02-18","cases":13.0},{"state":"WI","date":"2021-02-19","cases":12.7},{"state":"WI","date":"2021-02-20","cases":12.6},{"state":"WI","date":"2021-02-21","cases":12.3},{"state":"WI","date":"2021-02-22","cases":12.4},{"state":"WI","date":"2021-02-23","cases":12.3},{"state":"WI","date":"2021-02-25","cases":12.7},{"state":"WI","date":"2021-02-26","cases":12.4},{"state":"WI","date":"2021-02-28","cases":12.6},{"state":"WI","date":"2021-03-01","cases":12.1},{"state":"WI","date":"2021-03-03","cases":11.7},{"state":"WI","date":"2021-03-04","cases":11.5},{"state":"WI","date":"2021-03-05","cases":11.3},{"state":"WI","date":"2021-03-06","cases":10.7},{"state":"WI","date":"2021-03-08","cases":10.2},{"state":"WI","date":"2021-03-10","cases":10.0},{"state":"WI","date":"2021-03-11","cases":9.5},{"state":"WI","date":"2021-03-13","cases":9.2},{"state":"WI","date":"2021-03-14","cases":9.5},{"state":"WI","date":"2021-03-15","cases":9.9},{"state":"WI","date":"2021-03-18","cases":10.1},{"state":"WI","date":"2021-03-20","cases":10.1},{"state":"WI","date":"2021-03-21","cases":9.95},{"state":"WI","date":"2021-03-22","cases":10.1},{"state":"WI","date":"2021-03-23","cases":8.5},{"state":"WI","date":"2021-03-24","cases":10.4},{"state":"WI","date":"2021-03-25","cases":10.8},{"state":"WI","date":"2021-03-27","cases":11.5},{"state":"WI","date":"2021-03-29","cases":11.4},{"state":"WI","date":"2021-03-30","cases":13.4},{"state":"WI","date":"2021-03-31","cases":11.6},{"state":"WI","date":"2021-04-02","cases":11.9},{"state":"WI","date":"2021-04-04","cases":12.5},{"state":"WI","date":"2021-04-05","cases":12.6},{"state":"WI","date":"2021-04-06","cases":13.2},{"state":"WI","date":"2021-04-08","cases":14.3},{"state":"WI","date":"2021-04-09","cases":15.1},{"state":"WI","date":"2021-04-10","cases":15.4},{"state":"WI","date":"2021-04-11","cases":15.4},{"state":"WI","date":"2021-04-12","cases":15.7},{"state":"WI","date":"2021-04-14","cases":15.8},{"state":"WI","date":"2021-04-15","cases":15.7},{"state":"WI","date":"2021-04-16","cases":15.0},{"state":"WI","date":"2021-04-17","cases":14.8},{"state":"WI","date":"2021-04-19","cases":14.7},{"state":"WI","date":"2021-04-20","cases":14.2},{"state":"WI","date":"2021-04-21","cases":13.6},{"state":"WI","date":"2021-04-23","cases":12.9},{"state":"WI","date":"2021-04-24","cases":12.65},{"state":"WI","date":"2021-04-25","cases":12.1},{"state":"WI","date":"2021-04-26","cases":12.3},{"state":"WI","date":"2021-04-28","cases":12.3},{"state":"WI","date":"2021-04-29","cases":12.5},{"state":"WI","date":"2021-04-30","cases":12.5},{"state":"WI","date":"2021-05-01","cases":12.7},{"state":"WI","date":"2021-05-02","cases":12.8},{"state":"WI","date":"2021-05-04","cases":12.4},{"state":"WI","date":"2021-05-05","cases":12.2},{"state":"WI","date":"2021-05-07","cases":11.5},{"state":"WI","date":"2021-05-09","cases":10.9},{"state":"WI","date":"2021-05-11","cases":10.0},{"state":"WI","date":"2021-05-13","cases":9.2},{"state":"WI","date":"2021-05-14","cases":9.0},{"state":"WI","date":"2021-05-15","cases":8.9},{"state":"WI","date":"2021-05-16","cases":8.1},{"state":"WI","date":"2021-05-17","cases":8.3},{"state":"WI","date":"2021-05-18","cases":8.2},{"state":"WI","date":"2021-05-19","cases":8.0},{"state":"WI","date":"2021-05-20","cases":7.9},{"state":"WI","date":"2021-05-22","cases":7.0},{"state":"WI","date":"2021-05-23","cases":7.3},{"state":"WI","date":"2021-05-24","cases":6.8},{"state":"WI","date":"2021-05-26","cases":6.2},{"state":"WI","date":"2021-05-27","cases":5.4},{"state":"WI","date":"2021-05-29","cases":4.5},{"state":"WI","date":"2021-05-30","cases":3.9},{"state":"WI","date":"2021-05-31","cases":4.5},{"state":"WI","date":"2021-06-01","cases":3.5},{"state":"WI","date":"2021-06-02","cases":3.0},{"state":"WI","date":"2021-06-04","cases":2.8},{"state":"WI","date":"2021-06-06","cases":2.8},{"state":"WI","date":"2021-06-07","cases":2.5},{"state":"WI","date":"2021-06-08","cases":2.9},{"state":"WI","date":"2021-06-09","cases":2.5},{"state":"WI","date":"2021-06-11","cases":2.3},{"state":"WI","date":"2021-06-13","cases":2.3},{"state":"WI","date":"2021-06-14","cases":1.9},{"state":"WI","date":"2021-06-17","cases":1.4},{"state":"WI","date":"2021-06-20","cases":1.4},{"state":"WI","date":"2021-06-22","cases":1.35},{"state":"WI","date":"2021-06-24","cases":1.6},{"state":"WI","date":"2021-06-26","cases":1.5},{"state":"WI","date":"2021-07-02","cases":1.5},{"state":"WI","date":"2021-07-04","cases":1.5},{"state":"WI","date":"2021-07-06","cases":1.3},{"state":"WI","date":"2021-07-08","cases":1.75},{"state":"WI","date":"2021-07-11","cases":1.8},{"state":"WI","date":"2021-07-13","cases":2.8},{"state":"WI","date":"2021-07-15","cases":2.8},{"state":"WI","date":"2021-07-16","cases":3.0},{"state":"WI","date":"2021-07-18","cases":3.1},{"state":"WI","date":"2021-07-20","cases":3.8},{"state":"WI","date":"2021-07-22","cases":4.6},{"state":"WI","date":"2021-07-23","cases":5.5},{"state":"WI","date":"2021-07-25","cases":5.6},{"state":"WI","date":"2021-07-26","cases":6.9},{"state":"WI","date":"2021-07-27","cases":8.6},{"state":"WI","date":"2021-07-28","cases":9.9},{"state":"WI","date":"2021-07-30","cases":12.6},{"state":"WI","date":"2021-08-01","cases":12.6},{"state":"WI","date":"2021-08-02","cases":15.0},{"state":"WI","date":"2021-08-03","cases":16.7},{"state":"WI","date":"2021-08-04","cases":17.8},{"state":"WI","date":"2021-08-05","cases":19.4},{"state":"WI","date":"2021-08-06","cases":19.8},{"state":"WI","date":"2021-08-08","cases":19.8},{"state":"WI","date":"2021-08-09","cases":20.7},{"state":"WI","date":"2021-08-10","cases":21.3},{"state":"WI","date":"2021-08-11","cases":21.9},{"state":"WI","date":"2021-08-12","cases":21.6},{"state":"WI","date":"2021-08-13","cases":23.5},{"state":"WI","date":"2021-08-15","cases":23.6},{"state":"WI","date":"2021-08-16","cases":23.3},{"state":"WI","date":"2021-08-17","cases":23.7},{"state":"WI","date":"2021-08-18","cases":24.1},{"state":"WI","date":"2021-08-19","cases":24.4},{"state":"WI","date":"2021-08-20","cases":24.0},{"state":"WI","date":"2021-08-22","cases":24.0},{"state":"WI","date":"2021-08-23","cases":26.3},{"state":"WI","date":"2021-08-24","cases":27.2},{"state":"WI","date":"2021-08-25","cases":28.2},{"state":"WI","date":"2021-08-26","cases":29.1},{"state":"WI","date":"2021-08-27","cases":31.2},{"state":"WI","date":"2021-08-29","cases":31.2},{"state":"WI","date":"2021-08-30","cases":33.1},{"state":"WI","date":"2021-08-31","cases":33.2},{"state":"WI","date":"2021-09-01","cases":33.8},
{"state":"SD","date":"2021-02-01","cases":18.3},{"state":"SD","date":"2021-02-02","cases":17.0},{"state":"SD","date":"2021-02-03","cases":16.7},{"state":"SD","date":"2021-02-04","cases":16.6},{"state":"SD","date":"2021-02-05","cases":16.0},{"state":"SD","date":"2021-02-06","cases":17.2},{"state":"SD","date":"2021-02-07","cases":15.9},{"state":"SD","date":"2021-02-08","cases":15.7},{"state":"SD","date":"2021-02-09","cases":15.7},{"state":"SD","date":"2021-02-10","cases":15.2},{"state":"SD","date":"2021-02-11","cases":17.2},{"state":"SD","date":"2021-02-12","cases":18.1},{"state":"SD","date":"2021-02-13","cases":17.4},{"state":"SD","date":"2021-02-14","cases":17.5},{"state":"SD","date":"2021-02-15","cases":17.7},{"state":"SD","date":"2021-02-16","cases":19.2},{"state":"SD","date":"2021-02-17","cases":17.8},{"state":"SD","date":"2021-02-18","cases":16.2},{"state":"SD","date":"2021-02-19","cases":15.4},{"state":"SD","date":"2021-02-20","cases":15.6},{"state":"SD","date":"2021-02-21","cases":16.0},{"state":"SD","date":"2021-02-22","cases":15.6},{"state":"SD","date":"2021-02-23","cases":15.4},{"state":"SD","date":"2021-02-24","cases":18.1},{"state":"SD","date":"2021-02-25","cases":17.8},{"state":"SD","date":"2021-02-26","cases":17.7},{"state":"SD","date":"2021-02-27","cases":18.1},{"state":"SD","date":"2021-03-01","cases":18.3},{"state":"SD","date":"2021-03-02","cases":17.8},{"state":"SD","date":"2021-03-03","cases":16.5},{"state":"SD","date":"2021-03-04","cases":17.75},{"state":"SD","date":"2021-03-05","cases":18.1},{"state":"SD","date":"2021-03-06","cases":17.5},{"state":"SD","date":"2021-03-07","cases":18.7},{"state":"SD","date":"2021-03-08","cases":18.1},{"state":"SD","date":"2021-03-09","cases":17.7},{"state":"SD","date":"2021-03-10","cases":18.2},{"state":"SD","date":"2021-03-11","cases":17.9},{"state":"SD","date":"2021-03-12","cases":18.1},{"state":"SD","date":"2021-03-13","cases":18.0},{"state":"SD","date":"2021-03-14","cases":16.7},{"state":"SD","date":"2021-03-15","cases":17.0},{"state":"SD","date":"2021-03-16","cases":16.6},{"state":"SD","date":"2021-03-17","cases":16.2},{"state":"SD","date":"2021-03-18","cases":16.8},{"state":"SD","date":"2021-03-19","cases":18.3},{"state":"SD","date":"2021-03-20","cases":19.6},{"state":"SD","date":"2021-03-21","cases":20.0},{"state":"SD","date":"2021-03-22","cases":21.3},{"state":"SD","date":"2021-03-23","cases":21.0},{"state":"SD","date":"2021-03-24","cases":22.7},{"state":"SD","date":"2021-03-25","cases":23.0},{"state":"SD","date":"2021-03-26","cases":21.2},{"state":"SD","date":"2021-03-27","cases":21.9},{"state":"SD","date":"2021-03-28","cases":22.3},{"state":"SD","date":"2021-03-29","cases":22.0},{"state":"SD","date":"2021-03-30","cases":22.5},{"state":"SD","date":"2021-03-31","cases":22.4},{"state":"SD","date":"2021-04-01","cases":22.0},{"state":"SD","date":"2021-04-02","cases":21.8},{"state":"SD","date":"2021-04-03","cases":20.5},{"state":"SD","date":"2021-04-04","cases":18.1},{"state":"SD","date":"2021-04-05","cases":19.0},{"state":"SD","date":"2021-04-06","cases":19.2},{"state":"SD","date":"2021-04-07","cases":19.7},{"state":"SD","date":"2021-04-08","cases":19.7},{"state":"SD","date":"2021-04-09","cases":20.4},{"state":"SD","date":"2021-04-10","cases":21.6},{"state":"SD","date":"2021-04-11","cases":21.7},{"state":"SD","date":"2021-04-12","cases":22.2},{"state":"SD","date":"2021-04-13","cases":23.7},{"state":"SD","date":"2021-04-14","cases":22.7},{"state":"SD","date":"2021-04-15","cases":22.8},{"state":"SD","date":"2021-04-16","cases":22.3},{"state":"SD","date":"2021-04-17","cases":21.8},{"state":"SD","date":"2021-04-18","cases":21.7},{"state":"SD","date":"2021-04-19","cases":20.9},{"state":"SD","date":"2021-04-20","cases":19.7},{"state":"SD","date":"2021-04-21","cases":18.3},{"state":"SD","date":"2021-04-22","cases":17.0},{"state":"SD","date":"2021-04-23","cases":16.2},{"state":"SD","date":"2021-04-24","cases":15.0},{"state":"SD","date":"2021-04-25","cases":15.0},{"state":"SD","date":"2021-04-26","cases":14.5},{"state":"SD","date":"2021-04-27","cases":14.0},{"state":"SD","date":"2021-04-28","cases":14.2},{"state":"SD","date":"2021-04-29","cases":14.2},{"state":"SD","date":"2021-04-30","cases":12.6},{"state":"SD","date":"2021-05-01","cases":10.8},{"state":"SD","date":"2021-05-03","cases":10.7},{"state":"SD","date":"2021-05-04","cases":12.0},{"state":"SD","date":"2021-05-05","cases":11.2},{"state":"SD","date":"2021-05-06","cases":10.1},{"state":"SD","date":"2021-05-07","cases":9.15},{"state":"SD","date":"2021-05-08","cases":9.15},{"state":"SD","date":"2021-05-09","cases":9.1},{"state":"SD","date":"2021-05-10","cases":8.3},{"state":"SD","date":"2021-05-11","cases":7.4},{"state":"SD","date":"2021-05-12","cases":7.2},{"state":"SD","date":"2021-05-13","cases":7.0},{"state":"SD","date":"2021-05-15","cases":7.0},{"state":"SD","date":"2021-05-16","cases":6.6},{"state":"SD","date":"2021-05-17","cases":6.0},{"state":"SD","date":"2021-05-18","cases":5.4},{"state":"SD","date":"2021-05-19","cases":4.8},{"state":"SD","date":"2021-05-20","cases":4.4},{"state":"SD","date":"2021-05-23","cases":4.3},{"state":"SD","date":"2021-05-25","cases":3.9},{"state":"SD","date":"2021-05-26","cases":4.1},{"state":"SD","date":"2021-05-27","cases":3.7},{"state":"SD","date":"2021-05-28","cases":4.1},{"state":"SD","date":"2021-05-30","cases":3.9},{"state":"SD","date":"2021-05-31","cases":3.4},{"state":"SD","date":"2021-06-01","cases":2.8},{"state":"SD","date":"2021-06-02","cases":2.6},{"state":"SD","date":"2021-06-03","cases":2.2},{"state":"SD","date":"2021-06-04","cases":1.7},{"state":"SD","date":"2021-06-06","cases":1.7},{"state":"SD","date":"2021-06-07","cases":1.35},{"state":"SD","date":"2021-06-08","cases":1.75},{"state":"SD","date":"2021-06-09","cases":1.5},{"state":"SD","date":"2021-06-10","cases":1.6},{"state":"SD","date":"2021-06-12","cases":1.35},{"state":"SD","date":"2021-06-13","cases":1.5},{"state":"SD","date":"2021-06-14","cases":1.3},{"state":"SD","date":"2021-06-16","cases":1.1},{"state":"SD","date":"2021-06-18","cases":0.9},{"state":"SD","date":"2021-06-19","cases":0.9},{"state":"SD","date":"2021-06-20","cases":0.65},{"state":"SD","date":"2021-06-21","cases":0.95},{"state":"SD","date":"2021-06-23","cases":1.3},{"state":"SD","date":"2021-06-25","cases":1.4},{"state":"SD","date":"2021-06-27","cases":1.5},{"state":"SD","date":"2021-06-29","cases":1.2},{"state":"SD","date":"2021-07-01","cases":1.3},{"state":"SD","date":"2021-07-03","cases":1.45},{"state":"SD","date":"2021-07-04","cases":1.2},{"state":"SD","date":"2021-07-06","cases":0.95},{"state":"SD","date":"2021-07-08","cases":1.3},{"state":"SD","date":"2021-07-09","cases":0.95},{"state":"SD","date":"2021-07-13","cases":0.95},{"state":"SD","date":"2021-07-14","cases":1.75},{"state":"SD","date":"2021-07-20","cases":1.75},{"state":"SD","date":"2021-07-21","cases":3.2},{"state":"SD","date":"2021-07-27","cases":3.2},{"state":"SD","date":"2021-07-28","cases":4.4},{"state":"SD","date":"2021-08-03","cases":4.4},{"state":"SD","date":"2021-08-04","cases":6.1},{"state":"SD","date":"2021-08-10","cases":6.1},{"state":"SD","date":"2021-08-11","cases":12.0},{"state":"SD","date":"2021-08-12","cases":17.0},{"state":"SD","date":"2021-08-13","cases":18.6},{"state":"SD","date":"2021-08-15","cases":18.6},{"state":"SD","date":"2021-08-16","cases":21.3},{"state":"SD","date":"2021-08-17","cases":27.9},{"state":"SD","date":"2021-08-18","cases":20.1},{"state":"SD","date":"2021-08-19","cases":22.5},{"state":"SD","date":"2021-08-20","cases":25.1},{"state":"SD","date":"2021-08-22","cases":25.1},{"state":"SD","date":"2021-08-23","cases":29.0},{"state":"SD","date":"2021-08-24","cases":33.0},{"state":"SD","date":"2021-08-25","cases":35.1},{"state":"SD","date":"2021-08-26","cases":37.4},{"state":"SD","date":"2021-08-27","cases":40.0},{"state":"SD","date":"2021-08-29","cases":40.0},{"state":"SD","date":"2021-08-30","cases":42.8},{"state":"SD","date":"2021-08-31","cases":46.0},{"state":"SD","date":"2021-09-01","cases":47.9}
],
"labels":[
{"state":"SD","date":"2021-09-01","position":49.2},
{"state":"ND","date":"2021-09-01","position":41.6},
{"state":"IA","date":"2021-09-01","position":38.9},
{"state":"MO","date":"2021-09-01","position":36.3},
{"state":"WI","date":"2021-09-01","position":34.1},
{"state":"IL","date":"2021-09-01","position":31.4},
{"state":"MN","date":"2021-09-01","position":28.9}
]
},
"layer":[
{"data":{"name":"cases"},
"mark":{"type":"line","strokeWidth":5.5,"strokeJoin":"round","strokeCap":"round"},
"encoding":{
"x":{"field":"date","type":"temporal","scale":{"type":"utc","domain":[{"year":2021,"month":1,"date":26,"utc":true},{"year":2021,"month":9,"date":8,"utc":true}]},
"axis":{"format":"%b","tickCount":{"interval":"month","step":1},"domain":false,"grid":false,"ticks":true,"tickColor":"#000000","tickSize":8,"tickWidth":2,"labelFont":"Inter","labelFontSize":44,"labelColor":"#2c3a42","labelPadding":4,"title":"Source: New York Times. Graph by David H. Montgomery | MPR News","titleFont":"Inter","titleFontSize":33,"titleFontStyle":"italic","titleFontWeight":"normal","titleColor":"#4a4a4a","titleAlign":"left","titleAnchor":"start","titleBaseline":"alphabetic","titleX":-58,"titleY":133}},
"y":{"field":"cases","type":"quantitative","scale":{"domain":[0,50]},
"axis":{"orient":"left","values":[0,10,20,30,40,50],"domain":false,"grid":false,"ticks":false,"labelFont":"Inter","labelFontSize":44,"labelColor":"#2c3a42","labelPadding":5,"title":"MPR","titleAngle":0,"titleFont":"Inter","titleFontSize":62,"titleFontWeight":900,"titleColor":"#0d2435","titleAlign":"right","titleBaseline":"alphabetic","titleX":1632,"titleY":1190}},
"color":{"field":"state","type":"nominal","legend":null,"scale":{"domain":["SD","ND","IA","MO","WI","IL","MN"],"range":["#a5c8e1","#a5000b","#0b4f88","#ffc425","#76b80d","#f5821f","#4e7d0b"]}}
}},
{"data":{"name":"labels"},
"mark":{"type":"text","align":"left","baseline":"middle","dx":13,"font":"Inter","fontSize":39,"fontWeight":900},
"encoding":{
"x":{"field":"date","type":"temporal"},
"y":{"field":"position","type":"quantitative",
"axis":{"orient":"right","values":[0,10,20,30,40,50],"domain":false,"grid":false,"ticks":false,"labelFont":"Inter","labelFontSize":44,"labelColor":"#2c3a42","labelPadding":67,"title":"news","titleAngle":0,"titleFont":"Inter","titleFontSize":78,"titleFontWeight":900,"titleColor":"#00a3c8","titleAlign":"left","titleBaseline":"alphabetic","titleX":-18,"titleY":1190}},
"text":{"field":"state"},
"color":{"field":"state","type":"nominal","legend":null}
}}
],
"resolve":{"axis":{"y":"independent"}}
}
